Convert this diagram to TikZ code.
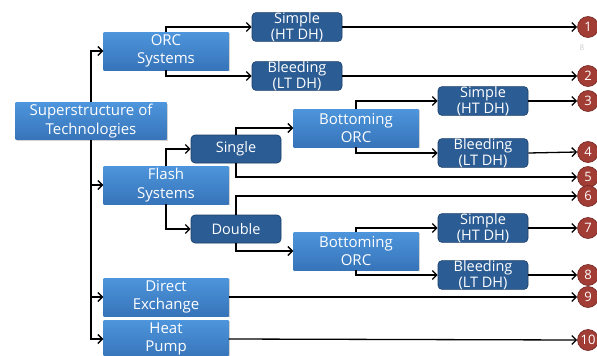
\documentclass[tikz,border=0pt]{standalone}
\usepackage{fontspec}
\setmainfont{Open Sans}
\usetikzlibrary{arrows.meta,shadows}
\definecolor{boxtop}{HTML}{4D95DC}
\definecolor{boxbot}{HTML}{3774B9}
\definecolor{subfill}{HTML}{2B5C94}
\definecolor{subline}{HTML}{1B3D66}
\definecolor{endfill}{HTML}{A23D35}
\definecolor{endline}{HTML}{6E2520}

\begin{document}
\begin{tikzpicture}[x=1pt, y=-1pt,
	techbox/.style={rectangle, top color=boxtop, bottom color=boxbot, draw=none,
		minimum width=125pt, minimum height=38pt, inner sep=0pt, align=center,
		text=white, font=\fontsize{15}{18.5}\selectfont,
		drop shadow={shadow xshift=1pt, shadow yshift=-1pt, opacity=0.35}},
	subbox/.style={rectangle, rounded corners=4pt, fill=subfill, draw=subline, line width=0.6pt,
		minimum width=90pt, minimum height=28pt, inner sep=0pt, align=center,
		text=white, font=\fontsize{14.5}{15.5}\selectfont},
	endpt/.style={circle, fill=endfill, draw=endline, line width=0.6pt, minimum size=21pt,
		inner sep=0pt, text=white, font=\fontsize{13}{14}\selectfont},
	arr/.style={line width=1.3pt, -{Straight Barb[length=4.5pt,width=9pt]}}]
			%%%%% START %%%%%
			
			\useasboundingbox (0, 0) rectangle (597, 356);
			
			% main boxes
			\node[techbox, minimum width=151pt, minimum height=37pt] (sup) at (91, 121) {Superstructure of\\Technologies};
			\node[techbox] (orc) at (166, 51) {ORC\\Systems};
			\node[techbox] (flash) at (166, 185) {Flash\\Systems};
			\node[techbox] (direct) at (166, 297) {Direct\\Exchange};
			\node[techbox] (heat) at (166, 339) {Heat\\Pump};
			\node[techbox] (botA) at (356, 128) {Bottoming\\ORC};
			\node[techbox] (botB) at (356, 251) {Bottoming\\ORC};
			
			% sub boxes
			\node[subbox] (orcsimple) at (297, 27) {Simple\\(HT DH)};
			\node[subbox] (orcbleed) at (297, 76) {Bleeding\\(LT DH)};
			\node[subbox] (single) at (236, 149) {Single};
			\node[subbox] (double) at (236, 229) {Double};
			\node[subbox] (asimple) at (483, 101) {Simple\\(HT DH)};
			\node[subbox] (ableed) at (483, 153) {Bleeding\\(LT DH)};
			\node[subbox] (bsimple) at (483, 228) {Simple\\(HT DH)};
			\node[subbox] (bbleed) at (483, 275) {Bleeding\\(LT DH)};
			
			% end points
			\node[endpt] (e1) at (588, 27) {1};
			\node[endpt] (e2) at (588, 76) {2};
			\node[endpt] (e3) at (588, 101) {3};
			\node[endpt] (e4) at (588, 152) {4};
			\node[endpt] (e5) at (588, 177) {5};
			\node[endpt] (e6) at (588, 196) {6};
			\node[endpt] (e7) at (588, 228) {7};
			\node[endpt] (e8) at (588, 275) {8};
			\node[endpt] (e9) at (588, 297) {9};
			\node[endpt] (e10) at (588, 340) {10};
			\node[text=black!20, font=\fontsize{8}{9}\selectfont] (stray) at (582, 48) {8};
			
			% trunk
			\draw[arr] (sup.north) |- (orc.west);
			\draw[arr] (sup.south) |- (flash.west);
			\draw[arr] (sup.south) |- (direct.west);
			\draw[arr] (sup.south) |- (heat.west);
			
			% ORC systems
			\draw[arr] (orc.north) |- (orcsimple.west);
			\draw[arr] (orc.south) |- (orcbleed.west);
			\draw[arr] (orcsimple.east) -- (e1.west);
			\draw[arr] (orcbleed.east) -- (e2.west);
			
			% flash systems
			\draw[arr] (flash.north) |- (single.west);
			\draw[arr] (flash.south) |- (double.west);
			\draw[arr] (single.north) |- (botA.west);
			\draw[arr] (single.south) |- (e5.west);
			\draw[arr] (double.north) |- (e6.west);
			\draw[arr] (double.south) |- (botB.west);
			
			\draw[arr] (botA.north) |- (asimple.west);
			\draw[arr] (botA.south) |- (ableed.west);
			\draw[arr] (botB.north) |- (bsimple.west);
			\draw[arr] (botB.south) |- (bbleed.west);
			\draw[arr] (asimple.east) -- (e3.west);
			\draw[arr] (ableed.east) -- (e4.west);
			\draw[arr] (bsimple.east) -- (e7.west);
			\draw[arr] (bbleed.east) -- (e8.west);
			
			% direct exchange, heat pump
			\draw[arr] (direct.east) -- (e9.west);
			\draw[arr] (heat.east) -- (e10.west);
			
			%%%%% END %%%%%
		\end{tikzpicture}
\end{document}
